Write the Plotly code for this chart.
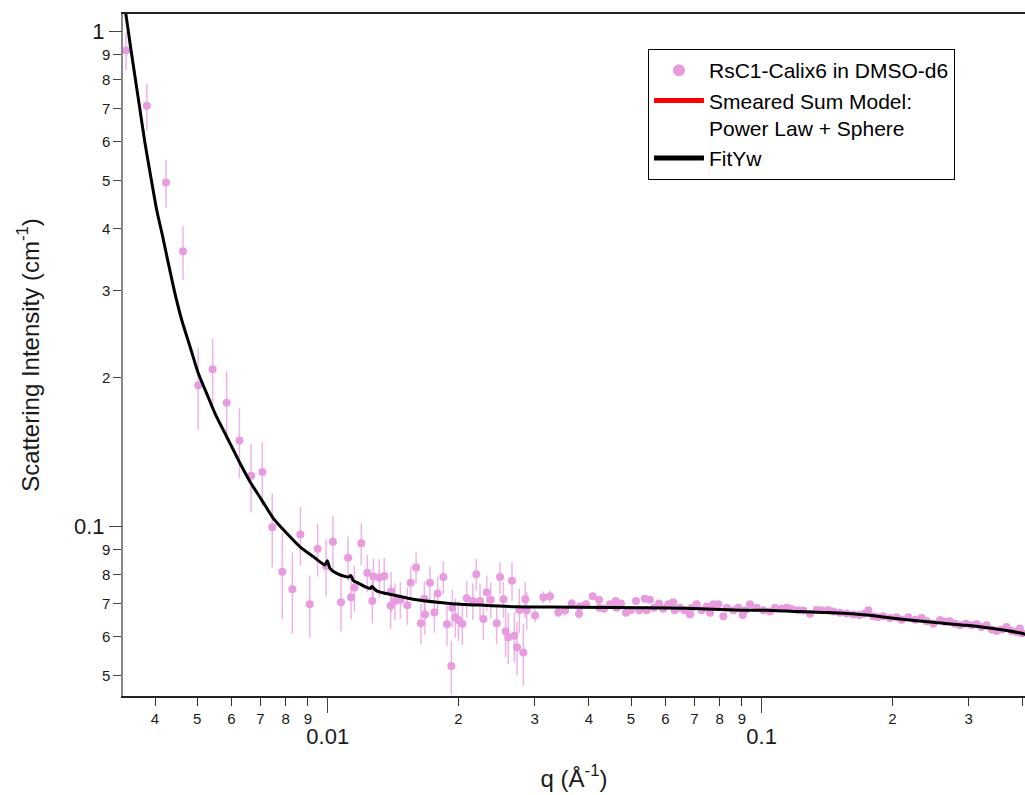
import math
import plotly.graph_objects as go

# ---------------- data ----------------
q_data = [0.00343, 0.00383, 0.00424, 0.00464, 0.00503, 0.00543, 0.00585, 0.00626,
          0.00666, 0.00707, 0.00745, 0.00786, 0.00829, 0.00865, 0.00909, 0.00948,
          0.00991, 0.01028, 0.01073, 0.01114, 0.01132, 0.01152, 0.01195, 0.01234,
          0.01267, 0.01274, 0.01315, 0.01350, 0.01396, 0.01400, 0.01429, 0.01470,
          0.01525, 0.01553, 0.01598, 0.01640, 0.01675, 0.01670, 0.01720, 0.01761,
          0.01792, 0.01847, 0.01883, 0.01927, 0.01937, 0.01968, 0.02000, 0.02043,
          0.02090, 0.02200, 0.02160, 0.02244, 0.02284, 0.02325, 0.02375, 0.02451,
          0.02495, 0.02540, 0.02570, 0.02606, 0.02659, 0.02692, 0.02730, 0.02764,
          0.02823, 0.02853, 0.02874, 0.03004, 0.03140, 0.03252, 0.03400, 0.03523,
          0.03649, 0.03793, 0.03810, 0.03937, 0.04079, 0.04219, 0.04230, 0.04332,
          0.04472, 0.04608, 0.04630, 0.04739, 0.04867, 0.04997, 0.05132, 0.05224,
          0.05383, 0.05430, 0.05528, 0.05646, 0.05799, 0.05933, 0.06093, 0.06256,
          0.06300, 0.06483, 0.06657, 0.06837, 0.06900, 0.07083, 0.07274, 0.07469,
          0.07603, 0.07739, 0.07948, 0.08162, 0.08307, 0.08604, 0.08834, 0.09043,
          0.09155, 0.09398, 0.09739, 0.1009, 0.1045, 0.1073, 0.1112, 0.1142,
          0.1172, 0.1214, 0.1247, 0.1292, 0.1339, 0.1375, 0.1424, 0.1462,
          0.1515, 0.1570, 0.1626, 0.1679, 0.1722, 0.1761, 0.1808, 0.1856,
          0.1906, 0.1975, 0.2046, 0.2101, 0.2177, 0.2256, 0.2337, 0.2400,
          0.2486, 0.2576, 0.2645, 0.2716, 0.2789, 0.2864, 0.2956, 0.3048,
          0.3130, 0.3214, 0.3299, 0.3388, 0.3478, 0.3573, 0.3668, 0.3767,
          0.3869, 0.3935, 0.3976]
i_data = [0.916, 0.709, 0.496, 0.360, 0.193, 0.208, 0.178, 0.1494,
          0.1268, 0.129, 0.0997, 0.0811, 0.0748, 0.0965, 0.0697, 0.0903,
          0.0833, 0.0933, 0.0704, 0.0866, 0.0720, 0.0754, 0.0926, 0.0807,
          0.0708, 0.0793, 0.0790, 0.0795, 0.0692, 0.0740, 0.0708, 0.0712,
          0.0694, 0.0771, 0.0827, 0.0638, 0.0665, 0.0715, 0.0771, 0.0671,
          0.0733, 0.0791, 0.0635, 0.0523, 0.0686, 0.0656, 0.0648, 0.0637,
          0.0717, 0.0802, 0.0708, 0.0708, 0.0651, 0.0737, 0.0712, 0.0638,
          0.0791, 0.0714, 0.0615, 0.0598, 0.0778, 0.0602, 0.0571, 0.0679,
          0.0557, 0.0714, 0.0678, 0.0662, 0.0720, 0.0724, 0.0671, 0.0677,
          0.0700, 0.0667, 0.0690, 0.0697, 0.0724, 0.0712, 0.0686, 0.0683,
          0.0697, 0.0708, 0.0686, 0.0700, 0.0670, 0.0679, 0.0708, 0.0678,
          0.0715, 0.0678, 0.0712, 0.0686, 0.0700, 0.0683, 0.0697, 0.0704,
          0.0678, 0.0686, 0.0677, 0.0665, 0.0686, 0.0697, 0.0678, 0.0690,
          0.0670, 0.0697, 0.0697, 0.0659, 0.0686, 0.0678, 0.0686, 0.0663,
          0.0678, 0.0697, 0.0686, 0.0678, 0.0674, 0.0686, 0.0683, 0.0686,
          0.0682, 0.0678, 0.0677, 0.0667, 0.0679, 0.0678, 0.0678, 0.0674,
          0.0670, 0.0668, 0.0665, 0.0663, 0.0667, 0.0678, 0.0659, 0.0656,
          0.0659, 0.0654, 0.0656, 0.0649, 0.0656, 0.0649, 0.0654, 0.0644,
          0.0637, 0.0648, 0.0643, 0.0644, 0.0637, 0.0632, 0.0637, 0.0632,
          0.0635, 0.0627, 0.0632, 0.0620, 0.0616, 0.0620, 0.0627, 0.0616,
          0.0613, 0.0623, 0.0609]
i_err = [0.080, 0.077, 0.055, 0.045, 0.036, 0.032, 0.028, 0.024,
         0.020, 0.019, 0.017, 0.016, 0.014, 0.013, 0.010, 0.011,
         0.011, 0.012, 0.009, 0.009, 0.007, 0.008, 0.009, 0.007,
         0.007, 0.007, 0.007, 0.007, 0.007, 0.007, 0.006, 0.006,
         0.006, 0.006, 0.006, 0.006, 0.006, 0.006, 0.006, 0.006,
         0.006, 0.006, 0.006, 0.0065, 0.006, 0.006, 0.006, 0.006,
         0.006, 0.006, 0.006, 0.006, 0.006, 0.006, 0.006, 0.006,
         0.006, 0.006, 0.007, 0.007, 0.007, 0.007, 0.007, 0.007,
         0.008, 0.006, 0.006, 0.002, 0.002, 0.002, 0.0015, 0.0015,
         0.0015, 0.0015, 0.0015, 0.0012, 0.0012, 0.0012, 0.0012, 0.0012,
         0.001, 0.001, 0.001, 0.001, 0.001, 0.001, 0.001, 0.001,
         0.001, 0.001, 0.001, 0.001, 0.001, 0.001, 0.001, 0.001,
         0.001, 0.001, 0.001, 0.001, 0.001, 0.001, 0.001, 0.001,
         0.001, 0.001, 0.001, 0.001, 0.001, 0.001, 0.001, 0.001,
         0.001, 0.001, 0.001, 0.001, 0.001, 0.001, 0.001, 0.001,
         0.001, 0.001, 0.001, 0.001, 0.001, 0.001, 0.001, 0.001,
         0.001, 0.001, 0.001, 0.001, 0.001, 0.001, 0.001, 0.001,
         0.001, 0.001, 0.001, 0.001, 0.001, 0.001, 0.001, 0.001,
         0.001, 0.001, 0.001, 0.001, 0.001, 0.001, 0.001, 0.001,
         0.001, 0.001, 0.001, 0.001, 0.001, 0.001, 0.001, 0.001,
         0.001, 0.001, 0.001]

q_fit = [0.003400, 0.003429, 0.003503, 0.003597, 0.003694, 0.003793, 0.003911, 0.004036,
         0.004167, 0.004292, 0.004446, 0.004609, 0.004817, 0.005032, 0.005260, 0.005497,
         0.005799, 0.005955, 0.006171, 0.006280, 0.006622, 0.007047, 0.007494, 0.008046,
         0.008633, 0.009264, 0.009857, 0.009979, 0.01012, 0.01049, 0.01100, 0.01116,
         0.01130, 0.01146, 0.01170, 0.01229, 0.01255, 0.01263, 0.01300, 0.01416,
         0.01604, 0.01912, 0.02283, 0.02726, 0.03252, 0.04391, 0.06718, 0.08999,
         0.1024, 0.1222, 0.1462, 0.1749, 0.2083, 0.2486, 0.2968, 0.3539,
         0.3976, 0.4100]
i_fit = [1.130, 1.081, 0.9475, 0.8111, 0.6948, 0.5949, 0.5094, 0.4363,
         0.3853, 0.3409, 0.2961, 0.2616, 0.2310, 0.2041, 0.1860, 0.1695,
         0.1544, 0.1474, 0.1385, 0.1343, 0.1233, 0.1132, 0.1040, 0.0970,
         0.0911, 0.0870, 0.0837, 0.0854, 0.0824, 0.0805, 0.0793, 0.0791,
         0.0797, 0.0778, 0.0771, 0.0754, 0.0750, 0.0757, 0.0741, 0.0728,
         0.0712, 0.0700, 0.0694, 0.0689, 0.0688, 0.0687, 0.0684, 0.0678,
         0.0678, 0.0674, 0.0670, 0.0663, 0.0651, 0.0641, 0.0632, 0.0620,
         0.0609, 0.0604]

x_minor_vals = [0.004, 0.005, 0.006, 0.007, 0.008, 0.009,
                0.02, 0.03, 0.04, 0.05, 0.06, 0.07, 0.08, 0.09,
                0.2, 0.3, 0.4]
x_minor_text = ["4", "5", "6", "7", "8", "9",
                "2", "3", "4", "5", "6", "7", "8", "9",
                "2", "3", "4"]
x_major_vals = [0.01, 0.1]
x_major_text = ["0.01", "0.1"]
y_minor_vals = [0.05, 0.06, 0.07, 0.08, 0.09, 0.2, 0.3, 0.4, 0.5, 0.6, 0.7, 0.8, 0.9]
y_minor_text = ["5", "6", "7", "8", "9", "2", "3", "4", "5", "6", "7", "8", "9"]
y_major_vals = [0.1, 1]
y_major_text = ["0.1", "1"]

x_range = [0.003375, 0.4044]
y_range = [0.0455, 1.086]

# ---------------- figure ----------------
xr = [math.log10(v) for v in x_range]
yr = [math.log10(v) for v in y_range]

FONT = "Liberation Sans, Arial, sans-serif"
PINK = "#E89BDF"

fig = go.Figure()
fig.add_trace(go.Scatter(
    x=q_data, y=i_data, mode="markers", name="RsC1-Calix6 in DMSO-d6",
    marker=dict(color=PINK, size=8, symbol="circle"),
    error_y=dict(type="data", array=i_err, visible=True, color="rgba(232,155,223,0.75)",
                 thickness=1.5, width=0),
))
fig.add_trace(go.Scatter(
    x=q_fit, y=i_fit, mode="lines", name="Smeared Sum Model:<br>Power Law + Sphere",
    line=dict(color="red", width=1),
))
fig.add_trace(go.Scatter(
    x=q_fit, y=i_fit, mode="lines", name="FitYw",
    line=dict(color="black", width=3, shape="spline", smoothing=0.6),
))
# empty trace so the overlay axes (major tick labels) are drawn
fig.add_trace(go.Scatter(x=[], y=[], xaxis="x2", yaxis="y2", showlegend=False,
                         hoverinfo="skip"))

fig.update_layout(
    width=1025, height=795,
    margin=dict(l=123, r=0, t=14, b=99),
    paper_bgcolor="white", plot_bgcolor="white",
    font=dict(family=FONT, color="#1a1a1a"),
    showlegend=True,
    legend=dict(x=0.582, y=0.9487, xanchor="left", yanchor="top",
                bordercolor="black", borderwidth=1, bgcolor="white",
                font=dict(family=FONT, size=21, color="black"),
                itemsizing="constant", valign="top", tracegroupgap=0,
                itemwidth=50),
    xaxis=dict(type="log", range=xr, showgrid=False, zeroline=False,
               showline=True, linecolor="#222", linewidth=1.5, mirror=True,
               ticks="outside", ticklen=8, tickwidth=1, tickcolor="#333",
               tickvals=x_minor_vals, ticktext=x_minor_text,
               tickfont=dict(family=FONT, size=15, color="#1a1a1a"),
               title=dict(text="q (Å<sup>-1</sup>)", font=dict(family=FONT, size=24),
                          standoff=44)),
    xaxis2=dict(type="log", range=xr, overlaying="x", anchor="y", side="bottom",
                showgrid=False, zeroline=False, showline=False,
                ticks="outside", ticklen=16, tickwidth=1, tickcolor="#444",
                tickvals=x_major_vals, ticktext=x_major_text,
                tickfont=dict(family=FONT, size=22, color="#1a1a1a"),
                ticklabelstandoff=5),
    yaxis=dict(type="log", range=yr, showgrid=False, zeroline=False,
               showline=True, linecolor="#888", linewidth=1.5, mirror=False,
               ticks="outside", ticklen=8, tickwidth=1, tickcolor="#444",
               tickvals=y_minor_vals, ticktext=y_minor_text,
               tickfont=dict(family=FONT, size=15, color="#1a1a1a"),
               title=dict(text="Scattering Intensity (cm<sup>-1</sup>)",
                          font=dict(family=FONT, size=24), standoff=56)),
    yaxis2=dict(type="log", range=yr, overlaying="y", anchor="x", side="left",
                showgrid=False, zeroline=False, showline=False,
                ticks="outside", ticklen=13, tickwidth=1, tickcolor="#444",
                tickvals=y_major_vals, ticktext=y_major_text,
                tickfont=dict(family=FONT, size=22, color="#1a1a1a"),
                ticklabelstandoff=0),
)

fig.write_html("out.html")
